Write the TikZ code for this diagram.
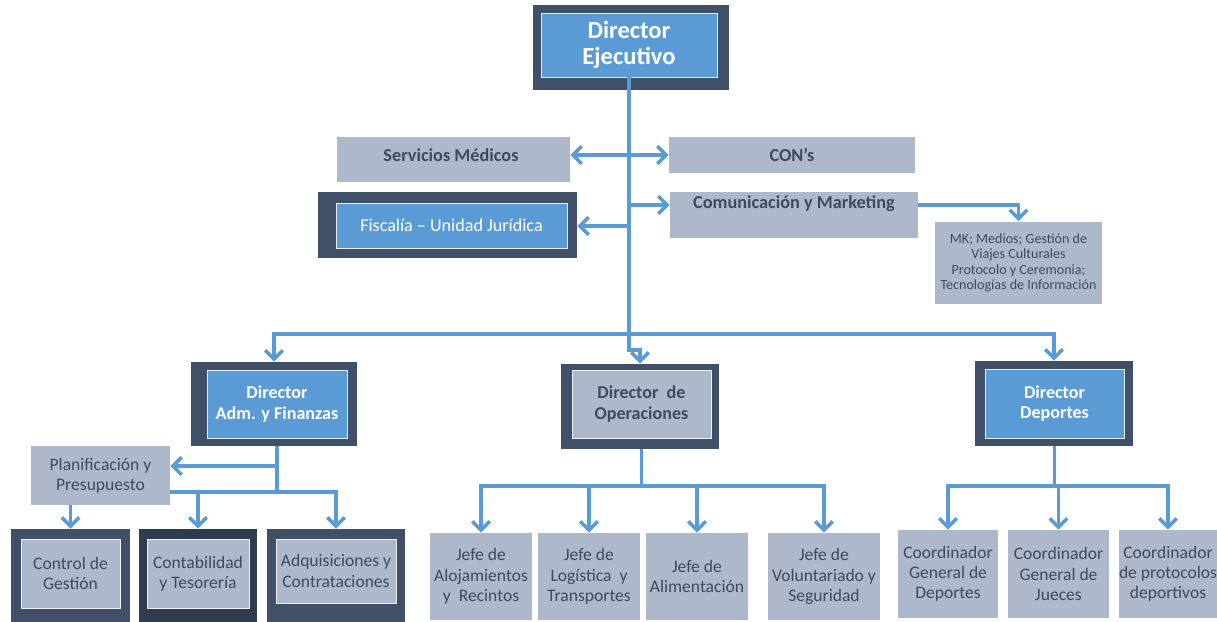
\documentclass[tikz,border=0pt]{standalone}
\usepackage{fontspec}
\setmainfont{Carlito}
\usetikzlibrary{arrows.meta}
\definecolor{cblue}{HTML}{5B9BD5}
\definecolor{cdark}{HTML}{415069}
\definecolor{cdarker}{HTML}{2F3C50}
\definecolor{cgray}{HTML}{ADB9CA}
\definecolor{ctext}{HTML}{3E4B5E}
\begin{document}
\begin{tikzpicture}[x=0.02cm,y=-0.02cm,
  frame/.style={fill=cdark, inner sep=0pt},
  bluebox/.style={fill=cblue, draw=white!85!cblue, line width=0.5pt, inner sep=0pt, text=white, align=center, font=\fontsize{10.3}{11.8}\selectfont\bfseries},
  graybox/.style={fill=cgray, inner sep=0pt, text=ctext, align=center, font=\fontsize{10}{11.5}\selectfont},
  grayin/.style={graybox, draw=white!80!cgray, line width=0.5pt},
  txt/.style={inner sep=0pt, text=ctext, align=center, font=\fontsize{10.4}{12}\selectfont\bfseries},
  conn/.style={draw=cblue, line width=2.2pt},
  arr/.style={conn, -{Straight Barb[length=5pt,width=10pt,line width=2pt]}}
]
\useasboundingbox (0,0) rectangle (1217,622);
\fill[white] (0,0) rectangle (1217,622);

% Director Ejecutivo
\node[frame, minimum width=3.92cm, minimum height=1.70cm] (deo) at (631,47.5) {};
\node[bluebox, minimum width=3.52cm, minimum height=1.28cm, font=\fontsize{14}{15}\selectfont\bfseries] (dei) at (629,45) {Director\\Ejecutivo};

% staff boxes
\node[graybox, minimum width=4.66cm, minimum height=0.90cm] (sm) at (453.5,159.5) {};
\node[txt] (smt) at (451,155) {Servicios Médicos};
\node[graybox, minimum width=4.92cm, minimum height=0.72cm, font=\fontsize{10.4}{12}\selectfont\bfseries] (con) at (792,155) {CON’s};
\node[graybox, minimum width=4.96cm, minimum height=0.92cm] (com) at (794,215) {};
\node[txt] (comt) at (794,204) {Comunicación y Marketing};
\node[frame, minimum width=5.18cm, minimum height=1.32cm] (fiso) at (447.5,225) {};
\node[bluebox, minimum width=4.62cm, minimum height=0.90cm, font=\fontsize{10.3}{12}\selectfont] (fisi) at (451.5,225.5) {Fiscalía – Unidad Jurídica};
\node[graybox, minimum width=3.34cm, minimum height=1.66cm, font=\fontsize{8}{8.8}\selectfont] (mk) at (1018.5,263) {MK; Medios; Gestión de\\Viajes Culturales\\Protocolo y Ceremonia;\\Tecnologías de Información};

% directors
\node[frame, minimum width=3.32cm, minimum height=1.68cm] (admo) at (274,404) {};
\node[bluebox, minimum width=2.80cm, minimum height=1.36cm] (admi) at (277,404) {Director\\Adm. y Finanzas};
\node[frame, minimum width=3.16cm, minimum height=1.70cm] (opso) at (640,406.5) {};
\node[grayin, minimum width=2.78cm, minimum height=1.36cm, font=\fontsize{10.3}{11.8}\selectfont\bfseries] (opsi) at (641.5,404) {Director~ de\\Operaciones};
\node[frame, minimum width=3.16cm, minimum height=1.70cm] (depo) at (1054,403.5) {};
\node[bluebox, minimum width=2.78cm, minimum height=1.38cm] (depi) at (1054.5,403.5) {Director\\Deportes};

% adm branch
\node[graybox, minimum width=2.78cm, minimum height=1.18cm] (plan) at (100.5,475.5) {Planificación y\\Presupuesto};
\node[frame, minimum width=2.38cm, minimum height=1.86cm] (cgo) at (70.5,575.5) {};
\node[grayin, minimum width=1.98cm, minimum height=1.38cm] (cgi) at (70.5,573.5) {Control de\\Gestión};
\node[frame, fill=cdarker, minimum width=2.36cm, minimum height=1.86cm] (cto) at (198,575.5) {};
\node[grayin, minimum width=2.04cm, minimum height=1.38cm] (cti) at (198,573.5) {Contabilidad\\y Tesorería};
\node[frame, minimum width=2.76cm, minimum height=1.86cm] (aqo) at (336,575.5) {};
\node[grayin, minimum width=2.40cm, minimum height=1.28cm] (aqi) at (336,571) {Adquisiciones y\\Contrataciones};

% ops branch
\node[graybox, minimum width=2.04cm, minimum height=1.74cm] (j1) at (481,576.5) {Jefe de\\Alojamientos\\y~ Recintos};
\node[graybox, minimum width=2.04cm, minimum height=1.74cm] (j2) at (589,576.5) {Jefe de\\Logística~ y\\Transportes};
\node[graybox, minimum width=2.04cm, minimum height=1.74cm] (j3) at (697,576.5) {Jefe de\\Alimentación};
\node[graybox, minimum width=2.24cm, minimum height=1.74cm] (j4) at (824,576.5) {Jefe de\\Voluntariado y\\Seguridad};

% dep branch
\node[graybox, minimum width=2.00cm, minimum height=1.76cm] (c1) at (948,574) {Coordinador\\General de\\Deportes};
\node[graybox, minimum width=2.02cm, minimum height=1.76cm] (c2) at (1058.5,574) {Coordinador\\General de\\Jueces};
\node[graybox, minimum width=1.96cm, minimum height=1.76cm] (c3) at (1168,574) {Coordinador\\de protocolos\\deportivos};

% connectors
\coordinate (t1) at (629,155);
\coordinate (t2) at (629,205);
\coordinate (t3) at (629,226);
\coordinate (tb) at (629,334);
\draw[conn] (dei.south) -- (tb);
\draw[arr] (t1) -- (t1 -| sm.east);
\draw[arr] (t1) -- (t1 -| con.west);
\draw[arr] (t2) -- (t2 -| com.west);
\draw[arr] (t3) -- (t3 -| fiso.east);
\draw[arr] (com.east) ++(0,-10) -| (mk.north);

\draw[arr] (tb) -| (admo.north);
\draw[arr] (tb) -| (depo.north);
\draw[arr] (tb) -- ++(0,16) -| (opso.north);

% adm
\coordinate (a1) at (277,466);
\coordinate (ab) at (277,492);
\draw[conn] (admo.south -| admi.south) -- (ab);
\draw[arr] (a1) -- (a1 -| plan.east);
\draw[arr] (plan.east |- ab) -| (aqo.north);
\draw[arr] (ab -| cto.north) -- (cto.north);
\draw[arr] (plan.south -| cgo.north) -- (cgo.north);

% ops
\coordinate (ob) at (641.5,486);
\draw[conn] (opso.south -| opsi.south) -- (ob);
\draw[arr] (ob) -| (j1.north);
\draw[arr] (ob) -| (j4.north);
\draw[arr] (ob -| j2.north) -- (j2.north);
\draw[arr] (ob -| j3.north) -- (j3.north);

% dep
\coordinate (db) at (1054.5,486);
\draw[conn] (depo.south -| depi.south) -- (db);
\draw[arr] (db) -| (c1.north);
\draw[arr] (db) -| (c3.north);
\draw[arr] (db -| c2.north) -- (c2.north);
\end{tikzpicture}
\end{document}
